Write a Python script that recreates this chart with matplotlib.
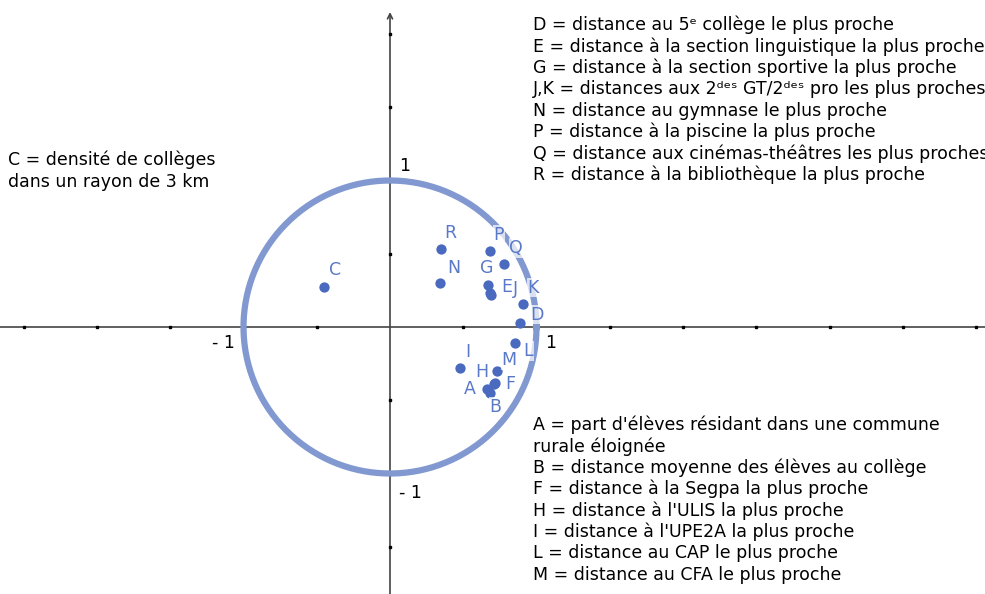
import matplotlib.pyplot as plt
import numpy as np

plt.rcParams['font.family'] = ['DejaVu Sans']

# coordinates of the variables on the correlation circle
labels = ['A', 'B', 'C', 'D', 'E', 'F', 'G', 'H', 'I', 'J', 'K', 'L', 'M', 'N', 'P', 'Q', 'R']
xs = [0.66, 0.68, -0.45, 0.89, 0.68, 0.71, 0.67, 0.72, 0.48, 0.69, 0.91, 0.85, 0.73, 0.34, 0.68, 0.78, 0.35]
ys = [-0.42, -0.45, 0.27, 0.03, 0.23, -0.39, 0.29, -0.38, -0.28, 0.22, 0.16, -0.11, -0.30, 0.30, 0.52, 0.43, 0.53]

legend_top = [
    "D = distance au 5\u1d49 collège le plus proche",
    "E = distance à la section linguistique la plus proche",
    "G = distance à la section sportive la plus proche",
    "J,K = distances aux 2\u1d48\u1d49\u02e2 GT/2\u1d48\u1d49\u02e2 pro les plus proches",
    "N = distance au gymnase le plus proche",
    "P = distance à la piscine la plus proche",
    "Q = distance aux cinémas-théâtres les plus proches",
    "R = distance à la bibliothèque la plus proche",
]
legend_bottom = [
    "A = part d'élèves résidant dans une commune",
    "rurale éloignée",
    "B = distance moyenne des élèves au collège",
    "F = distance à la Segpa la plus proche",
    "H = distance à l'ULIS la plus proche",
    "I = distance à l'UPE2A la plus proche",
    "L = distance au CAP le plus proche",
    "M = distance au CFA le plus proche",
]
legend_left = ["C = densité de collèges", "dans un rayon de 3 km"]

# label offsets in pixels (x right, y up)
offsets = {
    'A': (-17, 0), 'B': (6, -14), 'C': (11, 17), 'D': (17, 8), 'E': (17, 6),
    'F': (16, 0), 'G': (-1, 17), 'H': (-14, 11), 'I': (7, 16), 'J': (24, 6),
    'K': (10, 16), 'L': (14, -8), 'M': (12, 11), 'N': (14, 15), 'P': (9, 16),
    'Q': (12, 16), 'R': (9, 16),
}

W, H = 985, 594
ox, oy, unit = 390, 327, 146.5
fig = plt.figure(figsize=(W / 100, H / 100), dpi=100)
ax = fig.add_axes([0, 0, 1, 1])
ax.set_xlim(-ox / unit, (W - ox) / unit)
ax.set_ylim(-(H - oy) / unit, oy / unit)
ax.axis('off')

point_col = '#4a6abf'
label_col = '#5a78c8'
circle_col = '#8298d0'
axis_col = '#444444'
fs = 12.5

# axes
ax.axhline(0, color=axis_col, lw=1.2, zorder=1)
ytop = (oy - 12) / unit
ax.annotate('', xy=(0, ytop), xytext=(0, -(H - oy) / unit),
            arrowprops=dict(arrowstyle='->', color=axis_col, lw=1.2, shrinkA=0, shrinkB=0,
                            mutation_scale=9), zorder=1)
tx = np.arange(-2.5, 4.1, 0.5)
tx = tx[tx != 0]
ax.plot(tx, np.zeros_like(tx), 's', color='black', ms=1.6, zorder=2)
ty = np.arange(-1.5, 2.1, 0.5)
ty = ty[ty != 0]
ax.plot(np.zeros_like(ty), ty, 's', color='black', ms=1.6, zorder=2)

# unit circle
t = np.linspace(0, 2 * np.pi, 400)
ax.plot(np.cos(t), np.sin(t), color=circle_col, lw=4.5, zorder=3)

# tick labels
ax.text(0.06, 1.1, '1', fontsize=fs, ha='left', va='center')
ax.text(-1.06, -0.11, '- 1', fontsize=fs, ha='right', va='center')
ax.text(1.06, -0.11, '1', fontsize=fs, ha='left', va='center')
ax.text(0.06, -1.13, '- 1', fontsize=fs, ha='left', va='center')

# points and labels
ax.scatter(xs, ys, s=55, color=point_col, zorder=5, linewidths=0)
for lab, x, y in zip(labels, xs, ys):
    dx, dy = offsets[lab]
    ax.annotate(lab, (x, y), xytext=(dx, dy), textcoords='offset pixels',
                ha='center', va='center', fontsize=fs, color=label_col, zorder=6,
                bbox=dict(boxstyle='square,pad=0.05', fc='white', ec='none', alpha=0.7))

# text blocks
step = 21.4
for i, line in enumerate(legend_top):
    fig.text(533 / W, 1 - (25 + i * step) / H, line, fontsize=fs, va='center', ha='left')
for i, line in enumerate(legend_bottom):
    fig.text(533 / W, 1 - (425 + i * step) / H, line, fontsize=fs, va='center', ha='left')
for i, line in enumerate(legend_left):
    fig.text(8 / W, 1 - (160 + i * 22) / H, line, fontsize=fs, va='center', ha='left')

fig.savefig('out.png', dpi=100)
